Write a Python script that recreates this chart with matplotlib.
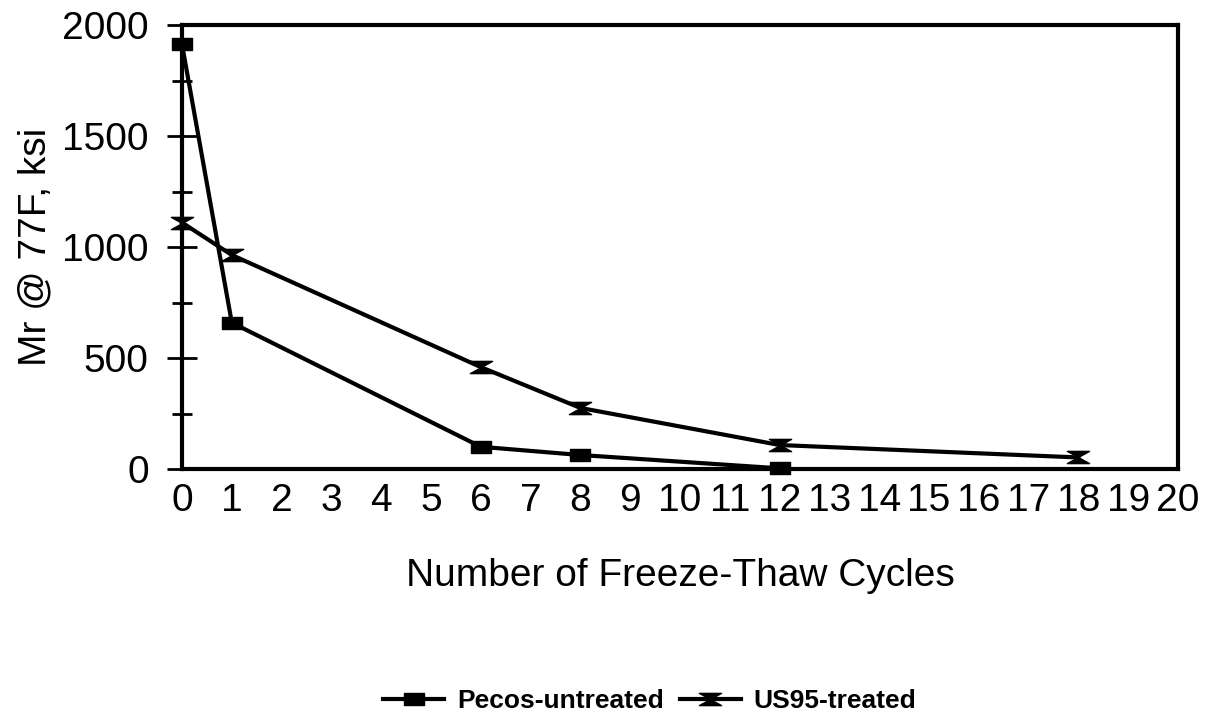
import matplotlib
matplotlib.use("Agg")
import matplotlib.pyplot as plt
from matplotlib.path import Path
from matplotlib.ticker import MultipleLocator

plt.rcParams['font.family'] = ['Liberation Sans', 'DejaVu Sans']

# data
pecos_x = [0, 1, 6, 8, 12]
pecos_y = [1913, 659, 100, 63, 3]
us95_x = [0, 1, 6, 8, 12, 18]
us95_y = [1110, 964, 459, 275, 108, 52]
x_ticks = list(range(0, 21))

# flat box and hourglass markers like the old Excel ones
box = Path([(-1, -0.55), (1, -0.55), (1, 0.55), (-1, 0.55), (-1, -0.55)],
           [Path.MOVETO, Path.LINETO, Path.LINETO, Path.LINETO, Path.CLOSEPOLY])
hourglass = Path([(-1, 0.55), (1, 0.55), (-1, -0.55), (1, -0.55), (-1, 0.55)],
                 [Path.MOVETO, Path.LINETO, Path.LINETO, Path.LINETO, Path.CLOSEPOLY])

fig = plt.figure(figsize=(12.11, 7.19), dpi=100)
ax = fig.add_axes([182/1211, 1 - 469/719, (1178-182)/1211, (469-25)/719])

ax.plot(pecos_x, pecos_y, color='black', lw=3, marker=box, ms=15,
        label='Pecos-untreated', clip_on=False, zorder=3)
ax.plot(us95_x, us95_y, color='black', lw=3, marker=hourglass, ms=16,
        label='US95-treated', clip_on=False, zorder=3)

ax.set_xlim(0, 20)
ax.set_ylim(0, 2000)
ax.set_xticks(x_ticks)
ax.yaxis.set_major_locator(MultipleLocator(500))
ax.yaxis.set_minor_locator(MultipleLocator(250))
ax.tick_params(axis='x', length=0, labelsize=28, pad=10)
ax.tick_params(axis='y', which='major', direction='inout', length=22, width=2, labelsize=28, pad=13)
ax.tick_params(axis='y', which='minor', direction='inout', length=15, width=2)
for s in ax.spines.values():
    s.set_linewidth(3)

ax.set_xlabel('Number of Freeze-Thaw Cycles', fontsize=28, labelpad=28)
ax.set_ylabel('Mr @ 77F, ksi', fontsize=28, labelpad=6)

leg = fig.legend(loc='center', bbox_to_anchor=(650/1211, 1 - 701/719), ncol=2,
                 frameon=False, prop={'weight': 'bold', 'size': 19},
                 handlelength=2.3, columnspacing=0.6, handletextpad=0.5)

fig.savefig('out.png', dpi=100)
